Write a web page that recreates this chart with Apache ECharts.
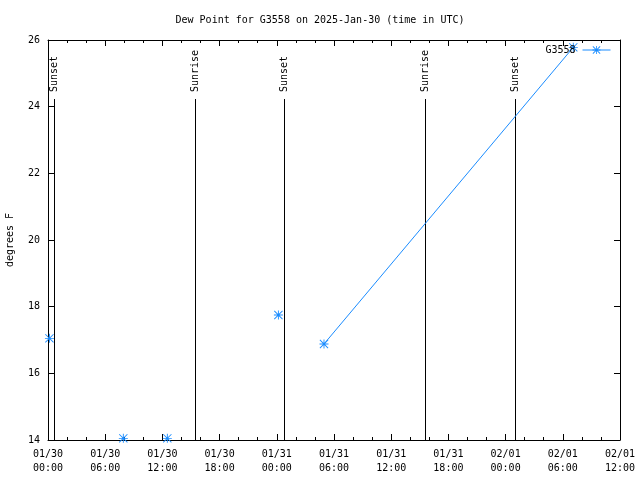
<!DOCTYPE html>
<html><head><meta charset="utf-8">
<script src="https://cdn.jsdelivr.net/npm/echarts@6/dist/echarts.min.js"></script>
<style>html,body{margin:0;padding:0;background:#fff}#c{width:640px;height:480px}</style>
</head><body><div id="c"></div>
<script>
const titleText = 'Dew Point for G3558 on 2025-Jan-30 (time in UTC)';
const seriesName = 'G3558';
const yLabel = 'degrees F';
// observation times (UTC) and dew point values; null marks a gap in the line
const obsTimes = ['2025-01-30 00:09', null, '2025-01-30 07:54', null, '2025-01-30 12:31', null, '2025-01-31 00:10', null, '2025-01-31 04:57', '2025-02-01 07:06'];
const obsValues = [17.05, null, 14.05, null, 14.05, null, 17.75, null, 16.88, 25.78];
// sun events
const sunTimes = ['2025-01-30 00:39', '2025-01-30 15:27', '2025-01-31 00:47', '2025-01-31 15:35', '2025-02-01 01:01'];
const sunLabels = ['Sunset', 'Sunrise', 'Sunset', 'Sunrise', 'Sunset'];
const sunLineTop = 24.23;
const xStart = '2025-01-30 00:00';
const xEnd = '2025-02-01 12:00';
const yMin = 14, yMax = 26, yStep = 2;

function parseUTC(s){
  const m = s.match(/(\d+)-(\d+)-(\d+) (\d+):(\d+)/);
  return Date.UTC(+m[1], +m[2]-1, +m[3], +m[4], +m[5]);
}
function pad(n){return (n<10?'0':'')+n;}
const H6 = 6*3600*1000;
const FONT = 'DejaVu Sans Mono';
const COLOR = '#1a8cff';

const lineData = obsTimes.map((t,i)=>{
  if (t === null) return [obsTimes[i-1] ? parseUTC(obsTimes[i-1]) + 1 : 0, '-'];
  return [parseUTC(t), obsValues[i]];
});
const star = 'path://M0 4.5L10 4.5L10 5.5L0 5.5ZM4.5 0L5.5 0L5.5 10L4.5 10ZM0.8 0.1L9.9 9.2L9.2 9.9L0.1 0.8ZM9.2 0.1L9.9 0.8L0.8 9.9L0.1 9.2Z';

const chart = echarts.init(document.getElementById('c'), null, {renderer:'canvas'});
const xCommon = {
  type:'value', min: parseUTC(xStart), max: parseUTC(xEnd), interval: H6,
  axisLine:{show:true, lineStyle:{color:'#000', width:1}},
  axisTick:{show:true, inside:true, length:6, lineStyle:{color:'#000'}},
  minorTick:{show:true, splitNumber:3, length:3, lineStyle:{color:'#000'}},
  splitLine:{show:false}
};
chart.setOption({
  animation:false,
  backgroundColor:'#fff',
  title:{text:titleText, left:'center', top:10, textStyle:{fontFamily:FONT, fontSize:10, fontWeight:'normal', color:'#000'}},
  legend:{show:true, right:24, top:40, align:'right', itemWidth:28, itemHeight:10, itemGap:0,
    lineStyle:{width:1},
    textStyle:{fontFamily:FONT, fontSize:10, color:'#000', padding:[0,2,0,0]},
    data:[{name:seriesName}]},
  grid:{left:48, right:20, top:40, bottom:40, containLabel:false, outerBoundsMode:'none'},
  xAxis:[
    Object.assign({}, xCommon, {position:'bottom',
      axisLabel:{show:true, fontFamily:FONT, fontSize:10, color:'#000', lineHeight:14, margin:7,
        formatter:function(v){const d=new Date(v);return pad(d.getUTCMonth()+1)+'/'+pad(d.getUTCDate())+'\n'+pad(d.getUTCHours())+':'+pad(d.getUTCMinutes());}}}),
    Object.assign({}, xCommon, {position:'top', axisLabel:{show:false}})
  ],
  yAxis:[
    {type:'value', min:yMin, max:yMax, interval:yStep, position:'left',
      name:yLabel, nameLocation:'middle', nameGap:33, nameRotate:90,
      nameTextStyle:{fontFamily:FONT, fontSize:10, color:'#000'},
      axisLine:{show:true, lineStyle:{color:'#000'}},
      axisTick:{show:true, inside:true, length:6, lineStyle:{color:'#000'}},
      axisLabel:{fontFamily:FONT, fontSize:10, color:'#000', margin:8},
      splitLine:{show:false}},
    {type:'value', min:yMin, max:yMax, interval:yStep, position:'right',
      axisLine:{show:true, lineStyle:{color:'#000'}},
      axisTick:{show:true, inside:true, length:6, lineStyle:{color:'#000'}},
      axisLabel:{show:false}, splitLine:{show:false}}
  ],
  series:[
    {type:'custom', name:'sun', xAxisIndex:0, yAxisIndex:0, z:1, silent:true,
      data: sunTimes.map(t=>[parseUTC(t), sunLineTop]),
      encode:{x:0, y:1},
      renderItem:function(params, api){
        const t = api.value(0);
        const p0 = api.coord([t, yMin]);
        const p1 = api.coord([t, api.value(1)]);
        const x = Math.round(p0[0]) + 0.5;
        return {type:'group', children:[
          {type:'line', shape:{x1:x, y1:p0[1], x2:x, y2:p1[1]}, style:{stroke:'#000', lineWidth:1}},
          {type:'text', x:x, y:p1[1]-7, rotation:Math.PI/2,
            style:{text:sunLabels[params.dataIndex], fontFamily:FONT, fontSize:10, fill:'#000', textAlign:'left', textVerticalAlign:'middle'}}
        ]};
      }},
    {type:'line', name:seriesName, xAxisIndex:0, yAxisIndex:0, z:3,
      data: lineData, connectNulls:false,
      symbol: star, symbolSize:9, showAllSymbol:true,
      lineStyle:{color:COLOR, width:1}, itemStyle:{color:COLOR}}
  ]
});
</script></body></html>
